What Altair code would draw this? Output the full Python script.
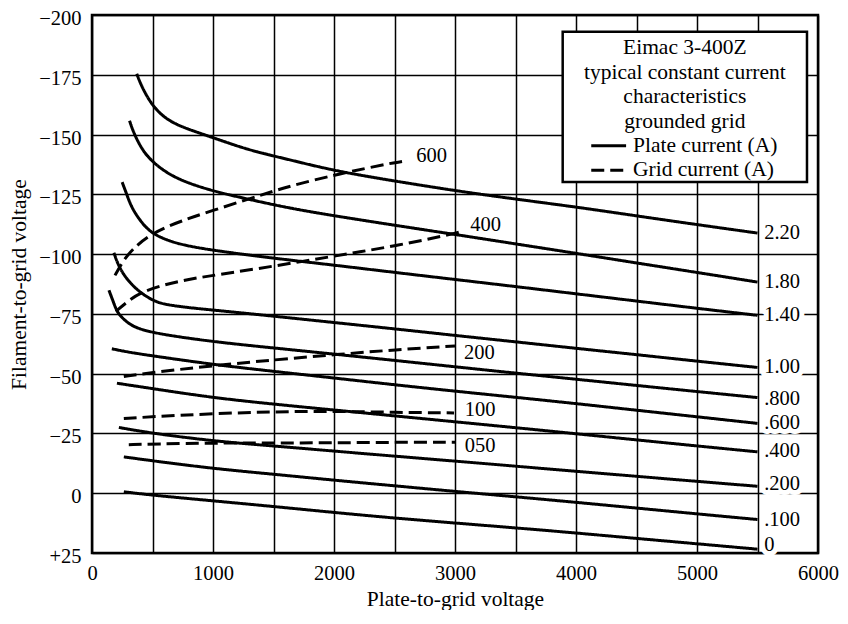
import altair as alt
import pandas as pd

FONT = "Liberation Serif"

# ---------------- Plate current curves (solid): plate-to-grid V, filament-to-grid V
p220_v = [370, 413, 501, 605, 729, 1008, 1266, 1512, 1701, 2030, 2507, 3016, 3500, 4017, 4512, 5005, 5500]
p220_y = [-175.4, -169.7, -161.8, -156.8, -153.3, -148.6, -144.0, -140.9, -138.6, -134.6, -130.5, -126.4, -123.0, -119.6, -115.9, -112.3, -108.8]

p180_v = [310, 345, 413, 501, 688, 1008, 1290, 1619, 2016, 2509, 3016, 3523, 4017, 4512, 5005, 5500]
p180_y = [-155.8, -150.6, -143.7, -138.3, -131.4, -126.2, -123.0, -119.3, -115.9, -112.0, -108.1, -104.1, -100.2, -96.2, -92.3, -88.3]

p140_v = [249, 290, 330, 413, 493, 605, 740, 1003, 1512, 2016, 2509, 3016, 3523, 4017, 4512, 5005, 5500]
p140_y = [-130.1, -124.6, -119.1, -112.9, -108.8, -106.1, -103.9, -101.5, -98.2, -95.3, -92.3, -89.3, -86.3, -83.3, -80.3, -77.3, -74.4]

p100_v = [181, 222, 304, 411, 523, 608, 797, 1003, 1512, 2016, 2509, 3016, 3523, 4017, 4512, 5005, 5500]
p100_y = [-100.6, -94.5, -88.3, -83.4, -80.1, -78.9, -77.6, -76.6, -74.0, -71.3, -68.7, -65.9, -63.2, -60.5, -57.9, -55.2, -52.6]

p080_v = [140, 181, 206, 249, 329, 493, 1003, 1512, 2016, 2509, 3016, 3523, 4017, 4512, 5005, 5500]
p080_y = [-84.9, -79.4, -76.0, -73.3, -69.8, -67.0, -63.3, -60.7, -58.1, -55.5, -52.8, -50.1, -47.6, -45.0, -42.5, -40.0]

p060_v = [164, 300, 493, 1003, 1512, 2016, 2509, 3016, 3523, 4017, 4520, 5013, 5500]
p060_y = [-60.4, -59.0, -57.5, -53.8, -50.9, -48.1, -45.3, -42.6, -40.0, -37.4, -34.6, -31.9, -29.2]

p040_v = [206, 493, 1003, 1512, 2000, 2509, 3016, 3523, 4017, 4520, 5013, 5500]
p040_y = [-46.0, -43.8, -39.9, -37.2, -34.8, -32.3, -29.8, -27.3, -24.8, -22.2, -19.7, -17.3]

p020_v = [222, 493, 1003, 1512, 2030, 2523, 3033, 3526, 4019, 4520, 5013, 5500]
p020_y = [-27.5, -25.1, -21.8, -19.7, -17.5, -15.4, -13.3, -11.2, -9.1, -7.0, -4.9, -2.9]

p010_v = [263, 493, 1003, 1512, 2030, 2523, 3033, 3526, 4019, 4520, 5013, 5500]
p010_y = [-15.2, -13.6, -10.3, -7.9, -5.3, -3.0, -0.6, 1.6, 3.9, 6.3, 8.7, 11.0]

p000_v = [263, 493, 1003, 1512, 2030, 2523, 3033, 3526, 4019, 4520, 5013, 5500]
p000_y = [-0.6, 0.8, 3.2, 5.6, 8.2, 10.5, 12.6, 14.6, 16.7, 19.0, 21.2, 23.4]

# ---------------- Grid current curves (dashed)
g600_v = [190, 249, 330, 493, 740, 1003, 1290, 1512, 1619, 2030, 2507, 2595]
g600_y = [-91.1, -96.5, -102.0, -108.8, -114.0, -118.3, -123.0, -126.5, -128.2, -133.5, -138.4, -139.0]

g400_v = [197, 300, 411, 600, 800, 1003, 1510, 2016, 2509, 3016, 3075]
g400_y = [-76.0, -80.5, -84.2, -87.3, -89.5, -91.1, -95.0, -99.3, -103.4, -108.8, -109.8]

g200_v = [263, 500, 1008, 1512, 2016, 2509, 3000]
g200_y = [-48.8, -50.5, -53.4, -55.8, -58.0, -60.0, -61.6]

g100_v = [263, 493, 1003, 1512, 2000, 2509, 2992]
g100_y = [-31.2, -32.0, -33.3, -34.1, -34.3, -33.8, -33.6]

g050_v = [304, 523, 1008, 1512, 2000, 2509, 3000]
g050_y = [-20.3, -20.6, -21.0, -21.0, -21.1, -21.3, -21.3]

# ---------------- Curve labels
plate_labels = ["2.20", "1.80", "1.40", "1.00", ".800", ".600", ".400", ".200", ".100", "0"]
plate_label_y = [-108.8, -88.3, -74.4, -52.6, -39.5, -29.2, -17.8, -3.7, 11.0, 21.5]
plate_label_v = [5555] * len(plate_labels)

grid_labels = ["600", "400", "200", "100", "050"]
grid_label_v = [2680, 3125, 3075, 3080, 3080]
grid_label_y = [-141.0, -112.1, -58.7, -35.0, -19.9]

# ---------------- Axis ticks
x_ticks = list(range(0, 6001, 500))
y_ticks = list(range(-200, 26, 25))

# ---------------- Legend text
legend_title_lines = ["Eimac 3-400Z", "typical constant current", "characteristics", "grounded grid"]
legend_entries = ["Plate current (A)", "Grid current (A)"]
legend_kinds = ["plate", "grid"]

# ================= build tables
rows = []
plate_curves = [p220_v, p220_y, p180_v, p180_y, p140_v, p140_y, p100_v, p100_y, p080_v, p080_y,
                p060_v, p060_y, p040_v, p040_y, p020_v, p020_y, p010_v, p010_y, p000_v, p000_y]
for i, lab in enumerate(plate_labels):
    vs, ys = plate_curves[2 * i], plate_curves[2 * i + 1]
    for v, y in zip(vs, ys):
        rows.append({"V": v, "E": y, "curve": "plate " + lab, "kind": "plate"})
grid_curves = [g600_v, g600_y, g400_v, g400_y, g200_v, g200_y, g100_v, g100_y, g050_v, g050_y]
for i, lab in enumerate(grid_labels):
    vs, ys = grid_curves[2 * i], grid_curves[2 * i + 1]
    for v, y in zip(vs, ys):
        rows.append({"V": v, "E": y, "curve": "grid " + lab, "kind": "grid"})
lines_df = pd.DataFrame(rows)

plate_lab_df = pd.DataFrame({"V": plate_label_v, "E": plate_label_y, "text": plate_labels})
grid_lab_df = pd.DataFrame({"V": grid_label_v, "E": grid_label_y, "text": grid_labels})

# legend layout (data units)
LEG_LEFT, LEG_RIGHT, LEG_TOP, LEG_BOTTOM = 3890, 5909, -193.0, -130.2
LEG_CENTER = (LEG_LEFT + LEG_RIGHT) / 2
LINE_STEP = 10.18
first_line = -186.0
legend_box_df = pd.DataFrame({"V": [LEG_LEFT], "V2": [LEG_RIGHT], "E": [LEG_TOP], "E2": [LEG_BOTTOM]})
legend_title_df = pd.DataFrame({
    "text": legend_title_lines,
    "V": [LEG_CENTER] * len(legend_title_lines),
    "E": [first_line + i * LINE_STEP for i in range(len(legend_title_lines))],
})
entry_y = [first_line + (len(legend_title_lines) + i) * LINE_STEP for i in range(len(legend_entries))]
legend_sample_df = pd.DataFrame({"kind": legend_kinds, "V": [4126] * 2, "V2": [4414] * 2, "E": entry_y})
legend_entry_df = pd.DataFrame({"text": legend_entries, "V": [4471] * 2, "E": entry_y})

x_scale = alt.Scale(domain=[0, 6000], nice=False, zero=False)
y_scale = alt.Scale(domain=[-200, 25], reverse=True, nice=False, zero=False)
dash_scale = alt.Scale(domain=["plate", "grid"], range=[[1, 0], [13, 6]])

curves = alt.Chart(lines_df).mark_line(
    interpolate="basis", strokeWidth=3, color="black", strokeCap="butt"
).encode(
    x=alt.X("V:Q", scale=x_scale, axis=alt.Axis(
        values=x_ticks, title="Plate-to-grid voltage",
        labelExpr="datum.value % 1000 == 0 ? '' + datum.value : ''",
        labelPadding=10, titlePadding=5, labelFlush=False, labelOverlap=False)),
    y=alt.Y("E:Q", scale=y_scale, axis=alt.Axis(
        values=y_ticks, title="Filament-to-grid voltage",
        labelExpr="datum.value < 0 ? '\u2212' + abs(datum.value) : (datum.value > 0 ? '+' + datum.value : '0')",
        labelPadding=11, titlePadding=8, labelOffset=3.5, labelFlush=False, labelOverlap=False)),
    detail="curve:N",
    strokeDash=alt.StrokeDash("kind:N", scale=dash_scale, legend=None),
)

def halo_text(df, align, size, halo_width):
    halo = alt.Chart(df).mark_text(
        align=align, baseline="middle", font=FONT, fontSize=size,
        color="white", stroke="white", strokeWidth=halo_width, strokeJoin="round"
    ).encode(x="V:Q", y="E:Q", text="text:N")
    txt = alt.Chart(df).mark_text(
        align=align, baseline="middle", font=FONT, fontSize=size, color="black"
    ).encode(x="V:Q", y="E:Q", text="text:N")
    return halo, txt

pl_halo, pl_txt = halo_text(plate_lab_df, "left", 20.5, 10)
gl_halo, gl_txt = halo_text(grid_lab_df, "left", 20.5, 6)

legend_box = alt.Chart(legend_box_df).mark_rect(
    fill="white", stroke="black", strokeWidth=2.5
).encode(x="V:Q", x2="V2:Q", y="E:Q", y2="E2:Q")

legend_title = alt.Chart(legend_title_df).mark_text(
    align="center", baseline="middle", font=FONT, fontSize=21.5, color="black"
).encode(x="V:Q", y="E:Q", text="text:N")

legend_samples = alt.Chart(legend_sample_df).mark_rule(strokeWidth=3, color="black").encode(
    x="V:Q", x2="V2:Q", y="E:Q",
    strokeDash=alt.StrokeDash("kind:N", scale=dash_scale, legend=None),
)

legend_entries_txt = alt.Chart(legend_entry_df).mark_text(
    align="left", baseline="middle", font=FONT, fontSize=21.5, color="black"
).encode(x="V:Q", y="E:Q", text="text:N")

chart = alt.layer(
    curves, pl_halo, pl_txt, gl_halo, gl_txt,
    legend_box, legend_title, legend_samples, legend_entries_txt
).properties(
    width=726, height=538,
    autosize=alt.AutoSizeParams(type="none"),
    padding={"left": 84, "top": 7, "right": 22, "bottom": 57},
    background="white",
).configure_view(
    stroke="black", strokeWidth=2.5
).configure_axis(
    grid=True, gridColor="black", gridWidth=1.5, gridOpacity=1,
    domain=False, ticks=False,
    labelFont=FONT, labelFontSize=20.5, labelColor="black",
    titleFont=FONT, titleFontSize=21.5, titleFontWeight="normal", titleColor="black",
)

chart.save("out.html", embed_options={"renderer": "svg", "actions": False})
